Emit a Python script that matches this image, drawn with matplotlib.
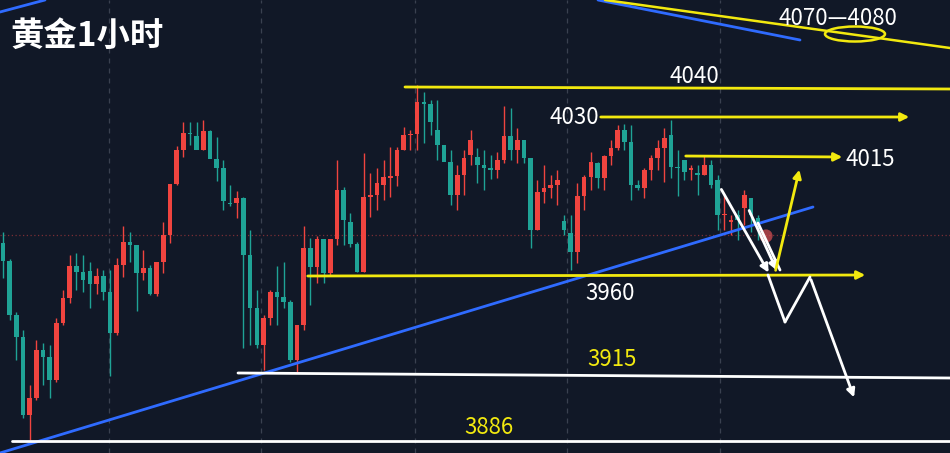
import matplotlib
matplotlib.use("Agg")
import matplotlib.pyplot as plt
from matplotlib.patches import Ellipse
import numpy as np

plt.rcParams['font.family'] = ['Noto Sans CJK SC', 'DejaVu Sans']

# Candle readings (chart-scale units; converted to price below)
opens = [243,261,315,337,415,398,350,357,380,323,298,266,272,271,284,276,292,333,265,242,245,273,268,294,262,235,184,150,133,136,150,131,159,168,203,203,198,255,308,345,318,292,297,302,360,325,248,267,239,273,239,190,222,244,272,197,195,185,178,176,150,135,134,102,104,130,145,162,195,175,155,157,165,168,170,160,136,150,140,158,230,192,188,185,221,233,252,196,177,163,178,156,148,130,142,185,188,170,158,148,135,167,160,170,173,175,165,180,215,222,215,208,198,218]
closes = [261,315,337,415,398,350,357,380,323,298,266,272,280,284,276,292,333,265,242,245,273,268,294,262,235,184,150,133,134,150,131,159,168,201,204,198,255,308,345,318,292,297,302,360,325,248,267,239,273,239,190,220,244,272,197,195,183,177,176,150,135,134,102,104,122,145,162,195,175,158,140,165,168,170,160,136,150,140,158,230,192,188,185,180,230,252,196,177,162,178,156,148,130,142,185,188,170,158,148,138,167,168,172,168,175,165,185,215,215,220,220,195,215,225]
highs = [232,259,312,330,385,340,343,345,318,290,255,253,255,262,268,270,270,258,226,232,245,250,265,262,222,184,146,122,122,122,120,130,137,160,185,191,197,230,290,315,290,266,262,300,325,226,238,236,240,239,160,187,213,242,153,173,168,160,147,147,127,130,85,92,100,100,145,150,165,150,130,148,150,155,152,106,108,128,140,158,180,165,175,170,215,215,183,175,152,162,155,140,125,124,125,180,168,155,140,128,120,150,162,165,165,155,160,175,195,215,210,190,198,215]
lows = [278,320,360,418,440,400,385,398,382,325,303,290,292,308,294,300,376,335,277,262,311,280,295,296,273,243,185,157,145,148,150,157,181,210,206,218,348,345,348,370,325,325,308,362,372,330,305,283,283,275,245,245,247,272,272,217,210,200,197,186,150,150,150,143,135,160,160,205,210,195,165,183,190,179,178,163,160,163,163,248,230,203,198,205,235,270,263,210,190,188,190,165,150,150,200,190,198,180,170,182,178,196,180,180,195,175,188,230,230,235,240,225,232,240]

def to_price(v):
    return 3960 + (275 - np.asarray(v, float)) / 2.35

O, C, H, L = map(to_price, (opens, closes, highs, lows))
idx = np.arange(len(O))

levels = [4040, 4030, 4015, 3960, 3915, 3886]

BG = '#111827'
UP = '#f0443f'
DN = '#1fa396'
YEL = '#f2e90f'

W, Hh = 950, 453
fig = plt.figure(figsize=(W/100, Hh/100), dpi=100, facecolor=BG)
ax = fig.add_axes([0, 0, 1, 1], facecolor=BG)
x0, dx = 3, 6.68
ax.set_xlim(-x0/dx, (W - x0)/dx)
ax.set_ylim(float(to_price(453)), float(to_price(0)))
ax.axis('off')

def P(x, y):
    return ((x - x0)/dx, float(to_price(y)))

# grid
for gx in [109, 261, 415, 567, 720]:
    ax.axvline(P(gx, 0)[0], color='#3a4150', ls=(0, (4, 4)), lw=0.9, zorder=0)
ax.axhline(float(to_price(235)), color='#7a2e35', ls=(0, (1, 2)), lw=0.9, zorder=0)

# candles
for i in idx:
    col = UP if C[i] >= O[i] else DN
    ax.vlines(i, L[i], H[i], color=col, lw=1, zorder=2)
    lo, hi = min(O[i], C[i]), max(O[i], C[i])
    ax.bar(i, max(hi - lo, 0.25), bottom=lo, width=0.7, color=col, zorder=3)

# glow
ax.scatter(*P(766, 236), s=90, color='#ff5a5a', alpha=0.6, zorder=4, edgecolors='none')

def line(x1, y1, x2, y2, color, lw=2, arrow=False, z=5):
    a, b = P(x1, y1), P(x2, y2)
    if arrow:
        ax.annotate('', xy=b, xytext=a, arrowprops=dict(arrowstyle='-|>', color=color, lw=lw, mutation_scale=12), zorder=z)
    else:
        ax.plot([a[0], b[0]], [a[1], b[1]], color=color, lw=lw, zorder=z, solid_capstyle='round')

# trend lines
line(0, 453, 813, 207, '#2f6bff', 2)
line(0, 12, 45, 0, '#2f6bff', 2)
line(598, 0, 800, 40, '#2f6bff', 2)
line(605, 0, 950, 48, YEL, 1.8)

# level lines
line(405, 87, 950, 89, YEL, 2)
line(598, 117, 912, 117, YEL, 2, arrow=True)
line(683, 156, 845, 157, YEL, 2, arrow=True)
line(305, 276, 868, 275, YEL, 2, arrow=True)
line(238, 373, 950, 378, 'white', 2)
line(12, 441, 950, 441, 'white', 2)

# scenario arrows
line(720, 187, 770, 275, 'white', 2, arrow=True)
line(748, 208, 778, 273, 'white', 2, arrow=True)
line(758, 223, 780, 270, 'white', 2)
line(775, 273, 800, 167, YEL, 2, arrow=True)
line(768, 275, 785, 322, 'white', 2)
line(785, 322, 810, 277, 'white', 2)
line(810, 277, 855, 400, 'white', 2, arrow=True)

e = Ellipse(P(855, 34), width=60/dx, height=15/2.35, fill=False, ec=YEL, lw=1.8, zorder=6)
ax.add_patch(e)

def txt(x, y, s, color='white', size=16, **kw):
    ax.text(*P(x, y), s, color=color, fontsize=size, ha='center', va='center', zorder=7, **kw)

ax.text(*P(10, 36), '黄金1小时', color='white', fontsize=24, fontweight='bold', ha='left', va='center', zorder=7)
txt(838, 18, '4070—4080')
txt(694, 76, '4040')
txt(574, 117, '4030')
txt(870, 159, '4015')
txt(610, 294, '3960')
txt(612, 359, '3915', color=YEL)
txt(489, 428, '3886', color=YEL)

fig.savefig('out.png', dpi=100, facecolor=BG)
